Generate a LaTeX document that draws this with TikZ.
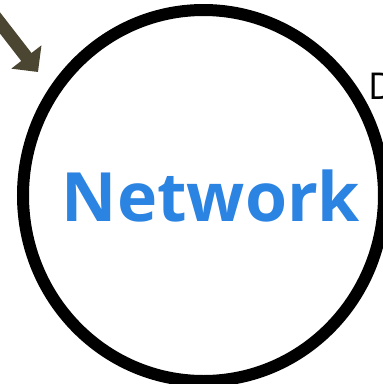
\documentclass[tikz,border=0pt]{standalone}
\usepackage{fontspec}
\setmainfont{Open Sans}
\usetikzlibrary{arrows.meta}
\definecolor{netblue}{HTML}{2B83E2}
\definecolor{arrowolive}{HTML}{4B4631}
\tikzset{
  ring/.style={draw=black, line width=12pt},
  label/.style={font=\fontsize{68}{74}\selectfont\bfseries, text=netblue, inner sep=0pt},
  sidetext/.style={font=\fontsize{37}{40}\selectfont, text=black, inner sep=0pt, anchor=base west},
  feed/.style={draw=arrowolive, line width=13pt, -{Triangle[length=19pt,width=37pt]}}
}
\begin{document}
\begin{tikzpicture}[x=1pt,y=-1pt]
\useasboundingbox (0,0) rectangle (383,384);
\draw[ring] (203.5,195.5) ellipse [x radius=180.5, y radius=185.5];
\node[label] (net) at (211,196) {Network};
\node[sidetext] (d) at (368,99) {D};
\coordinate (from) at (-10,10);
\coordinate (to) at (38,72);
\draw[feed] (from) -- (to);
\end{tikzpicture}
\end{document}
